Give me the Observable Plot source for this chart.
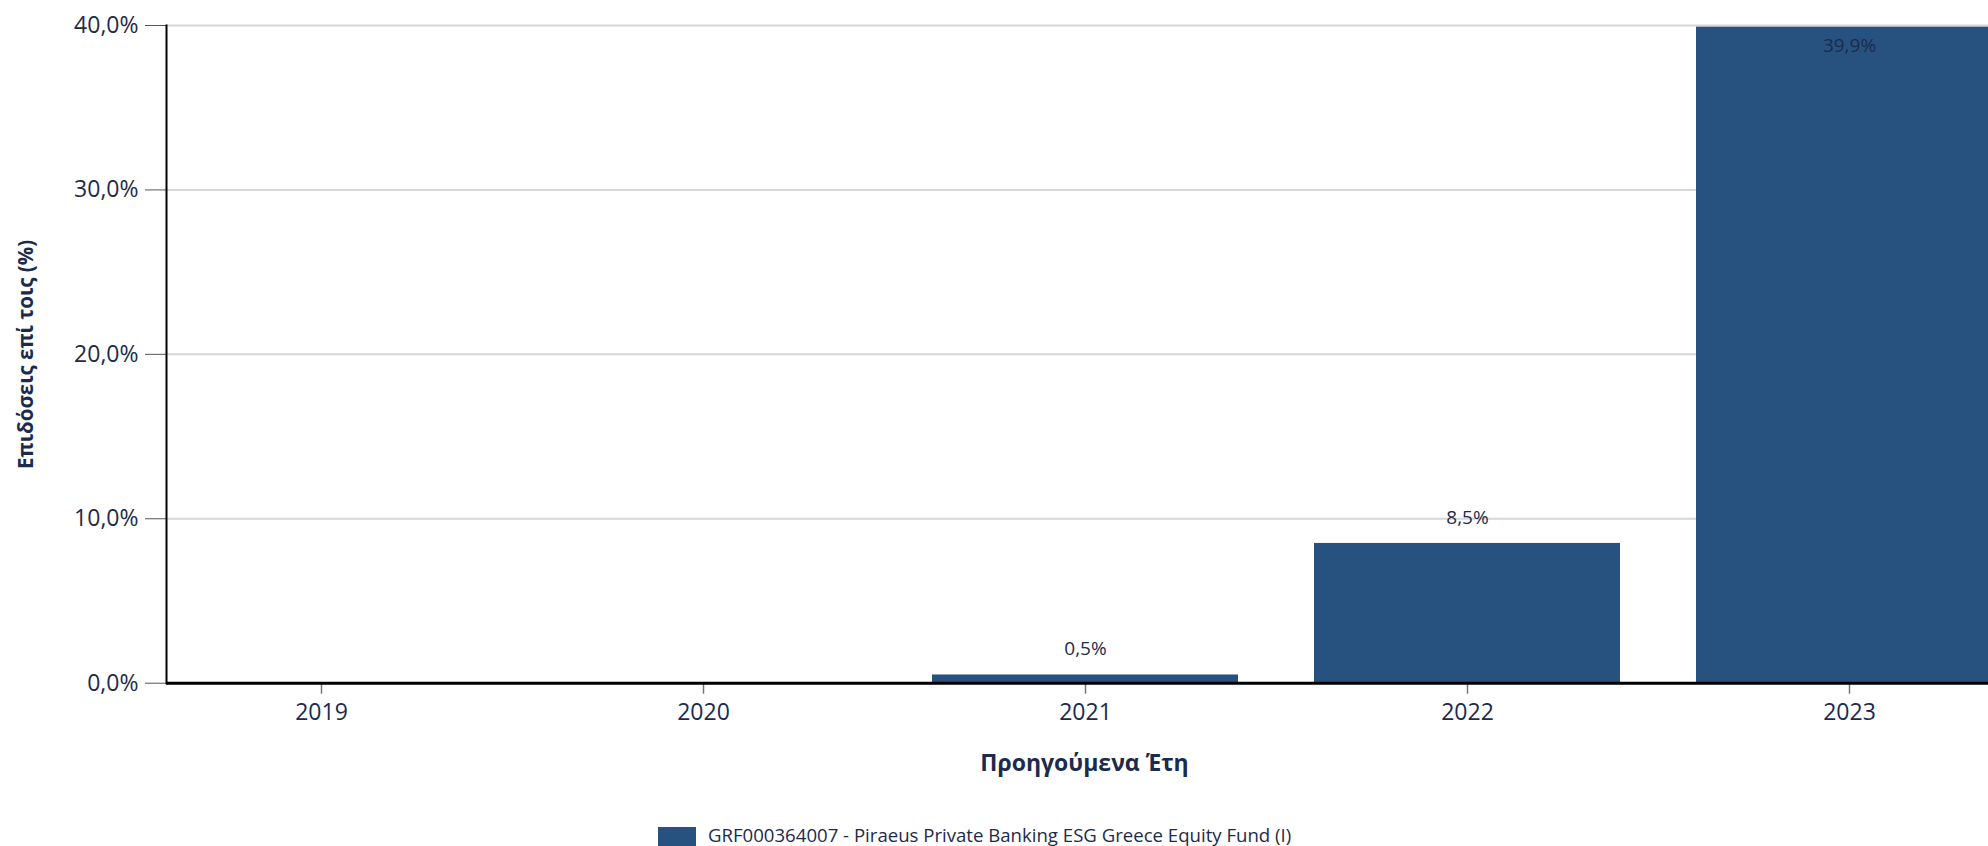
<!DOCTYPE html>
<html>
<head>
<meta charset="utf-8">
<script src="https://cdn.jsdelivr.net/npm/d3@7"></script>
<script src="https://cdn.jsdelivr.net/npm/@observablehq/plot@0.6"></script>
<style>
  html, body { margin: 0; padding: 0; background: #fff; }
  body { width: 1988px; overflow: hidden; font-family: "Open Sans", sans-serif; }
  #legend { display: flex; align-items: flex-start; padding-left: 658px; padding-top: 8px; color: #1c2b4b; font-size: 18.6px; line-height: 24px; }
  #legend .sw { width: 38px; height: 30px; background: #27527f; margin-top: 4px; margin-right: 12px; flex: none; }
</style>
</head>
<body>
<div id="chart"></div>
<div id="legend"></div>
<script>
const years = ["2019", "2020", "2021", "2022", "2023"];
const returns = [null, null, 0.5, 8.5, 39.9];
const yTicks = [0, 10, 20, 30, 40];
const yTitle = "Επιδόσεις επί τοις (%)";
const xTitle = "Προηγούμενα Έτη";
const seriesName = "GRF000364007 - Piraeus Private Banking ESG Greece Equity Fund (I)";

const barColor = "#27527f";
const textColor = "#1c2b4b";

const data = years.map((year, i) => ({year, value: returns[i]}));
const present = data.filter(d => d.value != null);
const fmt = v => v.toFixed(1).replace(".", ",") + "%";
const yMax = d3.max(yTicks);

const H = 815;
const chart = Plot.plot({
  width: 1988,
  height: H,
  marginTop: 25,
  marginLeft: 166,
  marginRight: -14,
  marginBottom: H - 682.7,
  style: {fontFamily: "Open Sans", color: textColor, background: "white"},
  x: {domain: years, range: [127.7, 2041.7], paddingInner: 0.2, paddingOuter: 0.1},
  y: {domain: [0, yMax]},
  marks: [
    Plot.gridY(yTicks, {stroke: "#d6d6d6", strokeOpacity: 1, strokeWidth: 2}),
    Plot.barY(present, {x: "year", y: "value", fill: barColor}),
    Plot.axisY(yTicks, {tickFormat: fmt, tickSize: 21, tickPadding: 7, fontSize: 23, stroke: "#555", fill: textColor, label: null}),
    Plot.axisX(years, {tickSize: 11, tickPadding: 9, fontSize: 23, stroke: "#777", strokeWidth: 1.5, fill: textColor, label: null}),
    Plot.frame({anchor: "left", stroke: "black", strokeWidth: 2}),
    Plot.ruleY([0], {stroke: "black", strokeWidth: 3}),
    Plot.text(present.filter(d => d.value < yMax * 0.9), {x: "year", y: "value", text: d => fmt(d.value), dy: -26, fontSize: 19, fill: textColor}),
    Plot.text(present.filter(d => d.value >= yMax * 0.9), {x: "year", y: "value", text: d => fmt(d.value), dy: 19, fontSize: 19, fill: textColor}),
    Plot.text([xTitle], {frameAnchor: "bottom", dy: 88, fontSize: 23, fontWeight: "bold", fill: textColor}),
    Plot.text([yTitle], {frameAnchor: "left", dx: -140, rotate: -90, textAnchor: "middle", fontSize: 20.5, fontWeight: "bold", fill: textColor})
  ]
});
document.getElementById("chart").appendChild(chart);

const legend = document.getElementById("legend");
const sw = document.createElement("div");
sw.className = "sw";
const lab = document.createElement("span");
lab.textContent = seriesName;
legend.appendChild(sw);
legend.appendChild(lab);
</script>
</body>
</html>
